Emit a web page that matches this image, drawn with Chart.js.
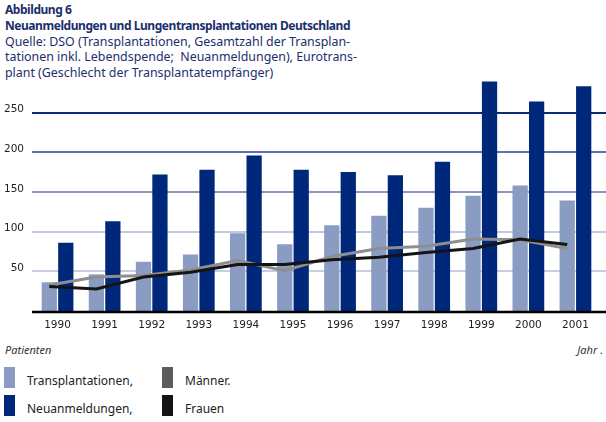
<!DOCTYPE html>
<html lang="de">
<head>
<meta charset="UTF-8">
<title>Neuanmeldungen und Lungentransplantationen Deutschland</title>
<script src="https://cdn.jsdelivr.net/npm/chart.js"></script>
<style>
  body { margin: 0; background: #fff; font-family: "Noto Sans", sans-serif; }
  #wrap { position: relative; width: 606px; height: 422px; overflow: hidden; }
  #titel { position: absolute; left: 5px; top: 2px; color: #1b2e6c; font-size: 12.4px; line-height: 15.8px; white-space: pre; }
  #titel b { font-weight: bold; font-size: 12px; letter-spacing: -0.45px; }
  canvas { position: absolute; left: 0; top: 0; }
  .achse { position: absolute; top: 342px; font-style: italic; font-size: 11px; color: #333; }
  .box { position: absolute; width: 11px; height: 21px; }
  .txt { position: absolute; font-size: 12px; line-height: 14px; color: #222; white-space: pre; }
</style>
</head>
<body>
<div id="wrap">
  <div id="titel"><b>Abbildung 6</b>
<b>Neuanmeldungen und Lungentransplantationen Deutschland</b>
Quelle: DSO (Transplantationen, Gesamtzahl der Transplan-
tationen inkl. Lebendspende;  Neuanmeldungen), Eurotrans-
plant (Geschlecht der Transplantatempfänger)</div>
  <canvas id="myChart" width="606" height="340"></canvas>
  <div class="achse" style="left:5px">Patienten</div>
  <div class="achse" style="right:3px">Jahr .</div>
  <div id="legende"></div>
</div>

<script>
  // Werte
  const jahre = ['1990', '1991', '1992', '1993', '1994', '1995', '1996', '1997', '1998', '1999', '2000', '2001'];
  const transplantationen = [37, 47, 63, 72, 99, 85, 109, 121, 131, 146, 159, 140];
  const neuanmeldungen = [87, 114, 173, 179, 197, 179, 176, 172, 189, 290, 265, 284];
  const maenner = [34, 44, 46, 53, 65, 52, 70, 80, 83, 92, 91, 80];
  const frauen = [32, 29, 44, 50, 60, 60, 66, 69, 75, 80, 92, 85];
  const yTicks = [50, 100, 150, 200, 250];

  const gitterFarben = ['#c6cee2', '#c0c9de', '#8798c0', '#5873ad', '#0b2c76'];
  // Lage der beiden Balken innerhalb eines Jahres (in Kategoriebreiten)
  const links = -0.175;
  const rechts = 0.175;
  const balkenBreite = 14.6;

  const schrift = { family: 'DejaVu Sans', size: 10.5 };

  const gitter = {
    id: 'gitter',
    beforeDatasetsDraw(chart) {
      const { ctx } = chart;
      const y = chart.scales.y;
      ctx.save();
      yTicks.forEach((v, i) => {
        const py = Math.round(y.getPixelForValue(v)) - 1;
        ctx.strokeStyle = gitterFarben[i];
        ctx.lineWidth = 2;
        ctx.beginPath();
        ctx.moveTo(32, py);
        ctx.lineTo(chart.width, py);
        ctx.stroke();
      });
      ctx.restore();
    },
    afterDatasetsDraw(chart) {
      const { ctx } = chart;
      const py = chart.scales.y.getPixelForValue(0);
      ctx.save();
      ctx.strokeStyle = '#000';
      ctx.lineWidth = 2.6;
      ctx.beginPath();
      ctx.moveTo(32, py);
      ctx.lineTo(chart.width, py);
      ctx.stroke();
      ctx.restore();
    }
  };

  const punkte = (werte, dx) => werte.map((v, i) => ({ x: i + dx, y: v }));

  const ctx = document.getElementById('myChart').getContext('2d');
  const myChart = new Chart(ctx, {
    data: {
      labels: jahre,
      datasets: [
        {
          type: 'bar', label: 'Transplantationen,', xAxisID: 'xl',
          data: punkte(transplantationen, links),
          backgroundColor: '#8b9cc3', legendFarbe: '#8b9cc3',
          grouped: false, barThickness: balkenBreite, order: 2
        },
        {
          type: 'bar', label: 'Neuanmeldungen,', xAxisID: 'xl',
          data: punkte(neuanmeldungen, rechts),
          backgroundColor: '#00287a', legendFarbe: '#00287a',
          grouped: false, barThickness: balkenBreite, order: 2
        },
        {
          type: 'line', label: 'Männer.', xAxisID: 'xl',
          data: punkte(maenner, links),
          borderColor: '#8e8e8e', legendFarbe: '#5c5c5c',
          borderWidth: 3, pointRadius: 0, tension: 0, order: 1
        },
        {
          type: 'line', label: 'Frauen', xAxisID: 'xl',
          data: punkte(frauen, links),
          borderColor: '#141414', legendFarbe: '#141414',
          borderWidth: 3, pointRadius: 0, tension: 0, order: 0
        }
      ]
    },
    options: {
      responsive: false,
      animation: false,
      layout: { padding: { top: 74, right: 7, left: 0, bottom: 0 } },
      plugins: { legend: { display: false }, tooltip: { enabled: false } },
      scales: {
        x: {
          type: 'category', offset: true,
          grid: { display: false, drawTicks: false }, border: { display: false },
          ticks: { padding: 7, font: schrift, color: '#222', maxRotation: 0 },
          afterFit(s) { s.height = 28; }
        },
        xl: { type: 'linear', display: false, offset: false, min: -0.5, max: 11.5 },
        y: {
          min: 0, max: 300,
          afterBuildTicks(s) { s.ticks = yTicks.map(v => ({ value: v })); },
          grid: { display: false, drawTicks: false }, border: { display: false },
          ticks: { padding: 10, labelOffset: -4, font: schrift, color: '#222' },
          afterFit(s) { s.width = 34; }
        }
      }
    },
    plugins: [gitter]
  });

  // Legende, 2 Spalten x 2 Zeilen
  const legende = document.getElementById('legende');
  const spalten = [4, 162];
  const zeilen = [367, 395];
  myChart.data.datasets.forEach((ds, i) => {
    const sx = spalten[Math.floor(i / 2)];
    const sy = zeilen[i % 2];
    const box = document.createElement('div');
    box.className = 'box';
    box.style.left = sx + 'px';
    box.style.top = sy + 'px';
    box.style.background = ds.legendFarbe;
    legende.appendChild(box);
    const t = document.createElement('div');
    t.className = 'txt';
    t.style.left = (sx + 23) + 'px';
    t.style.top = (sy + 7) + 'px';
    t.textContent = ds.label;
    legende.appendChild(t);
  });
</script>
</body>
</html>
